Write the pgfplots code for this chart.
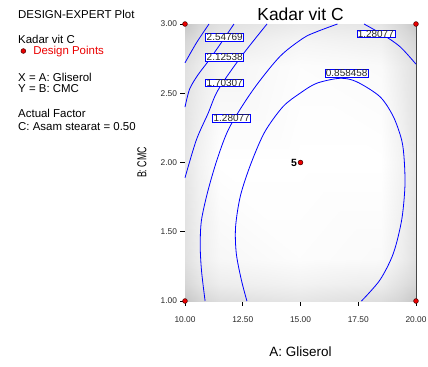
\documentclass[border=0pt]{standalone}
\usepackage{pgfplots}
\pgfplotsset{compat=1.18}
\usepackage{fontspec}
\setmainfont{Liberation Sans}
\definecolor{cline}{RGB}{0,0,255}
\definecolor{dpred}{RGB}{235,0,0}
\definecolor{frame}{RGB}{70,70,70}
\definecolor{ticktxt}{RGB}{40,40,40}

% gray levels of the background response shading (1 = white)
\pgfplotstableread{
x     y     g
10    1     0.78
10.6  1     0.83
11.5  1     0.87
15    1     0.90
18.5  1     0.87
19.4  1     0.83
20    1     0.78
10    1.12  0.84
10.6  1.12  0.89
11.5  1.12  0.93
15    1.12  0.95
18.5  1.12  0.93
19.4  1.12  0.88
20    1.12  0.84
10    1.3   0.88
10.6  1.3   0.93
11.5  1.3   0.97
15    1.3   0.99
18.5  1.3   0.98
19.4  1.3   0.93
20    1.3   0.88
10    2     0.90
10.6  2     0.95
11.5  2     1.00
15    2     1.00
18.5  2     1.00
19.4  2     0.95
20    2     0.90
10    2.7   0.88
10.6  2.7   0.92
11.5  2.7   0.96
15    2.7   0.99
18.5  2.7   0.98
19.4  2.7   0.92
20    2.7   0.88
10    2.88  0.84
10.6  2.88  0.88
11.5  2.88  0.92
15    2.88  0.96
18.5  2.88  0.94
19.4  2.88  0.88
20    2.88  0.84
10    3     0.78
10.6  3     0.84
11.5  3     0.88
15    3     0.92
18.5  3     0.90
19.4  3     0.84
20    3     0.78
}\shading

\begin{document}
\begin{tikzpicture}[x=1bp,y=1bp]
\path[use as bounding box] (0,0) rectangle (428,367);

\begin{scope}[every node/.style={anchor=base west, inner sep=0pt, font=\fontsize{11.5}{13}\selectfont}]
\node at (18,348.7) {DESIGN-EXPERT Plot};
\node at (18,323.7) {Kadar vit C};
\node at (18,286) {X = A: Gliserol};
\node at (18,274.3) {Y = B: CMC};
\node at (18,249.7) {Actual Factor};
\node at (18,237) {C: Asam stearat = 0.50};
\end{scope}

\begin{axis}[
  at={(185bp,66bp)}, anchor=south west,
  scale only axis, width=231bp, height=277bp,
  xmin=10, xmax=20, ymin=1, ymax=3,
  clip=false,
  axis line style={frame, line width=0.9bp},
  tick align=outside, xtick pos=bottom, ytick pos=left,
  major tick length=4.5bp,
  tick style={black, line width=0.6bp},
  xtick={10,12.5,15,17.5,20},
  xticklabels={10.00,12.50,15.00,17.50,20.00},
  ytick={1,1.5,2,2.5,3},
  yticklabels={1.00,1.50,2.00,2.50,3.00},
  tick label style={font=\fontsize{8.4}{9}\selectfont, text=ticktxt},
  xticklabel style={yshift=-8bp},
  title={Kadar vit C},
  title style={at={(0.5,1)}, anchor=base, yshift=-2bp, font=\fontsize{17.5}{19}\selectfont},
  xlabel={A: Gliserol},
  xlabel style={at={(axis description cs:0.5,-0.1986)}, anchor=base, font=\fontsize{13.5}{15}\selectfont},
  ylabel={\scalebox{0.68}[1]{B: CMC}},
  ylabel style={at={(axis description cs:-0.186,0.5)}, anchor=center, rotate=0, font=\fontsize{13}{15}\selectfont},
  colormap={bw}{gray(0cm)=(0); gray(1cm)=(1)},
  point meta min=0, point meta max=1,
  legend style={at={(axis description cs:-0.711,0.9025)}, anchor=west, draw=none, fill=none,
    inner sep=0pt, font=\fontsize{11.5}{13}\selectfont, text=dpred,
    legend cell align=left,
    /tikz/every odd column/.append style={column sep=5.5bp}},
  legend image post style={mark size=2.4bp},
]

% background shading
\addplot[surf, shader=interp, mesh/cols=7, point meta=explicit, forget plot]
  table[x=x, y=y, meta=g] {\shading};

% contour lines
\addplot[cline, line width=0.8bp, smooth, forget plot] coordinates {
  (10,2.72) (10.5,2.865) (11.04,3.0)};
\addplot[cline, line width=0.8bp, smooth, forget plot] coordinates {
  (10,2.40) (10.2,2.53) (10.55,2.63) (11.0,2.73) (11.55,2.86) (12.12,3.0)};
\addplot[cline, line width=0.8bp, smooth, forget plot] coordinates {
  (10,1.89) (10.49,2.162) (11.0,2.355) (11.43,2.523) (12.42,2.762) (13.55,3.0)};
\addplot[cline, line width=0.8bp, smooth, forget plot] coordinates {
  (10.87,1.0) (10.72,1.21) (10.66,1.39) (10.71,1.58) (11.0,1.80) (11.43,2.042)
  (11.94,2.258) (12.94,2.523) (14.1,2.764) (15.11,2.897) (15.7,2.944) (16.6,3.0)};
\addplot[cline, line width=0.8bp, smooth, forget plot] coordinates {
  (12.68,1.0) (12.44,1.152) (12.22,1.344) (12.19,1.536) (12.40,1.76) (12.85,1.99)
  (13.45,2.22) (14.24,2.403) (14.98,2.50) (15.7,2.572) (16.71,2.608) (17.43,2.583)
  (18.44,2.475) (19.02,2.331) (19.38,2.162) (19.49,2.018) (19.52,1.825) (19.38,1.585)
  (19.02,1.344) (18.44,1.152) (17.64,1.0)};
\addplot[cline, line width=0.8bp, smooth, forget plot] coordinates {
  (17.75,3.0) (18.58,2.921) (19.31,2.836) (20,2.71)};

% contour labels
\begin{scope}[every node/.style={draw=cline, fill=white, line width=0.6bp, text=ticktxt,
    inner xsep=1bp, inner ysep=0.3bp, font=\fontsize{10}{11}\selectfont}]
\node at (axis cs:11.72,2.906) {2.54769};
\node at (axis cs:11.72,2.758) {2.12538};
\node at (axis cs:11.72,2.576) {1.70307};
\node at (axis cs:12.02,2.321) {1.28077};
\node at (axis cs:17.0,2.644) {0.858458};
\node at (axis cs:18.26,2.929) {1.28077};
\end{scope}

% design points
\addplot[only marks, mark=*, mark size=2.4bp,
  mark options={fill=dpred, draw=black!75!red, line width=0.5bp}]
  coordinates {(10,1) (10,3) (20,1) (20,3) (15,2)};
\addlegendentry{Design Points}

\addplot[only marks, mark=none, forget plot,
  nodes near coords, point meta=explicit symbolic,
  nodes near coords style={anchor=east, xshift=0bp, font=\bfseries\fontsize{10.5}{11}\selectfont, text=black}]
  coordinates {(15,2) [5]};
\end{axis}
\end{tikzpicture}
\end{document}
